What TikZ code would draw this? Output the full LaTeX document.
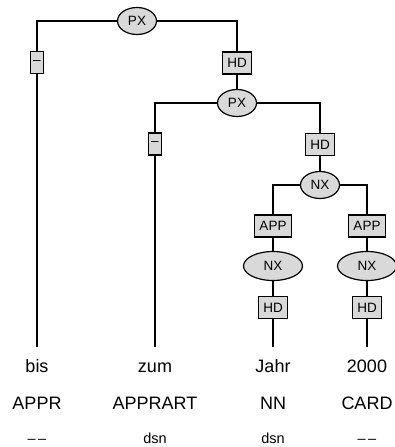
\documentclass[tikz,border=0pt]{standalone}
\usepackage{fontspec}
\setmainfont{Liberation Sans}
\usepackage{tikz}
\usetikzlibrary{shapes.geometric, positioning, calc}
\definecolor{nodegray}{RGB}{217,217,217}
\tikzstyle{cat} = [draw, ellipse, fill=nodegray, line width=1.2pt, minimum width=39pt, minimum height=27pt, inner sep=0pt, font=\fontsize{13.5}{15}\selectfont]
\tikzstyle{widecat} = [cat, minimum width=59pt, minimum height=29pt]
\tikzstyle{func} = [draw, rectangle, fill=nodegray, line width=1.2pt, minimum height=22pt, inner xsep=5pt, inner ysep=0pt, font=\fontsize{13.5}{15}\selectfont]
\tikzstyle{dashfunc} = [func, inner xsep=2.5pt]
\tikzstyle{word} = [anchor=base, inner sep=0pt, text height=13pt, font=\fontsize{18}{20}\selectfont]
\tikzstyle{morph} = [anchor=base, inner sep=0pt, font=\fontsize{14.5}{16}\selectfont]
\tikzstyle{link} = [draw, line width=1.2pt]
\tikzstyle{leaf} = [link, shorten >=12pt]

\begin{document}
\begin{tikzpicture}[x=1pt, y=-1pt]
    \useasboundingbox (0,0) rectangle (395,447);
    % Draw categories and functions
    \node (px_top) [cat] at (137,21) {PX};
    \node (dash_bis) [dashfunc] at (37,62.5) {\textendash};
    \node (hd_top) [func] at (237,63) {HD};
    \node (px_sub) [cat] at (237,103) {PX};
    \node (dash_zum) [dashfunc] at (155,144) {\textendash};
    \node (hd_sub) [func] at (320,144.5) {HD};
    \node (nx_top) [cat] at (320,185) {NX};

    \node (app_jahr) [func] at (273,226) {APP};
    \node (app_card) [func] at (367,226) {APP};
    \node (nx_jahr) [widecat] at (273,266) {NX};
    \node (nx_card) [widecat] at (367,266) {NX};
    \node (hd_jahr) [func] at (273,307.5) {HD};
    \node (hd_card) [func] at (367,307.5) {HD};

    % Tokens
    \node (w_bis) [word] at (37,372) {bis};
    \node (w_zum) [word] at (155,372) {zum};
    \node (w_jahr) [word] at (273,372) {Jahr};
    \node (w_card) [word] at (367,372) {2000};

    \node (t_bis) [word] at (37,409) {APPR};
    \node (t_zum) [word] at (155,409) {APPRART};
    \node (t_jahr) [word] at (273,409) {NN};
    \node (t_card) [word] at (367,409) {CARD};

    \node (m_bis) [morph] at (37,443) {\textendash\,\textendash};
    \node (m_zum) [morph] at (155,443) {dsn};
    \node (m_jahr) [morph] at (273,443) {dsn};
    \node (m_card) [morph] at (367,443) {\textendash\,\textendash};

    % Links
    \draw [link] (px_top) -| (dash_bis);
    \draw [link] (px_top) -| (hd_top);
    \draw [link] (hd_top) -- (px_sub);
    \draw [link] (px_sub) -| (dash_zum);
    \draw [link] (px_sub) -| (hd_sub);
    \draw [link] (hd_sub) -- (nx_top);
    \draw [link] (nx_top) -| (app_jahr);
    \draw [link] (nx_top) -| (app_card);
    \draw [link] (app_jahr) -- (nx_jahr);
    \draw [link] (app_card) -- (nx_card);
    \draw [link] (nx_jahr) -- (hd_jahr);
    \draw [link] (nx_card) -- (hd_card);

    \draw [leaf] (dash_bis) -- (w_bis);
    \draw [leaf] (dash_zum) -- (w_zum);
    \draw [leaf] (hd_jahr) -- (w_jahr);
    \draw [leaf] (hd_card) -- (w_card);
\end{tikzpicture}
\end{document}
